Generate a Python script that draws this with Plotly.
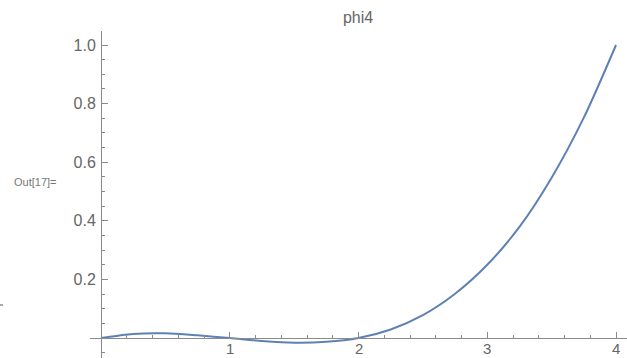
import plotly.graph_objects as go

# values
x_vals = [0, 0.25, 0.5, 0.75, 1.0, 1.25, 1.5, 1.75, 2.0, 2.25, 2.5, 2.75, 3.0, 3.25, 3.5, 3.75, 4.0]
y_vals = [0, 0.014, 0.016, 0.009, 0, -0.010, -0.016, -0.013, 0, 0.029, 0.078, 0.151, 0.25, 0.379, 0.547, 0.752, 1.0]

x_ticks = [1, 2, 3, 4]
x_tick_text = ["1", "2", "3", "4"]
y_ticks = [0.2, 0.4, 0.6, 0.8, 1.0]
y_tick_text = ["0.2", "0.4", "0.6", "0.8", "1.0"]

title_text = "phi4"
out_label = "Out[17]="

W, H = 627, 358
ML, MT = 90, 31
PW, PH = W - ML, H - MT

fig = go.Figure()
fig.add_trace(go.Scatter(x=x_vals, y=y_vals, mode="lines",
                         line=dict(color="#5E81B5", width=2, shape="spline", smoothing=0.8),
                         hoverinfo="skip"))

axis_color = "#8a8a8a"
tick_font = dict(family="Liberation Sans, Arial, sans-serif", size=16, color="#666666")
xtick_font = dict(family="Liberation Sans, Arial, sans-serif", size=15, color="#666666")

fig.update_layout(
    width=W, height=H,
    margin=dict(l=ML, r=0, t=MT, b=0, autoexpand=False),
    paper_bgcolor="white", plot_bgcolor="white",
    showlegend=False,
    title=dict(text=title_text, x=(358 - 0) / W, xref="container", xanchor="center",
               y=1 - 17 / H, yref="container", yanchor="middle",
               font=dict(family="Liberation Sans, Arial, sans-serif", size=16, color="#666666")),
    xaxis=dict(range=[-11 / 128.75, (W - 101) / 128.75], anchor="free",
               position=(358 - 338) / PH, automargin=False,
               showgrid=False, zeroline=False, showline=True, linecolor=axis_color, linewidth=1,
               tickmode="array", tickvals=x_ticks, ticktext=x_tick_text, showticklabels=False,
               ticks="inside", ticklen=6, tickcolor=axis_color, tickwidth=1,
               minor=dict(dtick=0.2, tick0=0, ticks="inside", ticklen=3,
                          tickcolor=axis_color, showgrid=False)),
    yaxis=dict(range=[-20 / 293, (338 - 31) / 293], anchor="free",
               position=11 / PW, automargin=False,
               showgrid=False, zeroline=False, showline=True, linecolor=axis_color, linewidth=1,
               tickmode="array", tickvals=y_ticks, ticktext=y_tick_text,
               ticks="inside", ticklen=6, tickcolor=axis_color, tickwidth=1,
               tickfont=tick_font, ticklabelstandoff=2,
               minor=dict(dtick=0.05, tick0=0, ticks="inside", ticklen=3,
                          tickcolor=axis_color, showgrid=False)),
)

# x tick labels, placed at the axis' tick values just above the bottom edge
for xv, xt in zip(x_ticks, x_tick_text):
    fig.add_annotation(text=xt, xref="x", yref="paper", x=xv, y=0,
                       xanchor="center", yanchor="bottom", showarrow=False,
                       borderpad=0, font=xtick_font)

fig.add_annotation(text=out_label, xref="paper", yref="paper",
                   x=(12 - ML) / PW, y=(H - 182) / PH, xanchor="left", yanchor="middle",
                   showarrow=False,
                   font=dict(family="Liberation Sans, Arial, sans-serif", size=11, color="#777777"))

fig.add_shape(type="line", xref="paper", yref="paper",
              x0=(0 - ML) / PW, x1=(3 - ML) / PW, y0=(H - 305) / PH, y1=(H - 305) / PH,
              line=dict(color="#555555", width=1))

fig.write_html("out.html")
